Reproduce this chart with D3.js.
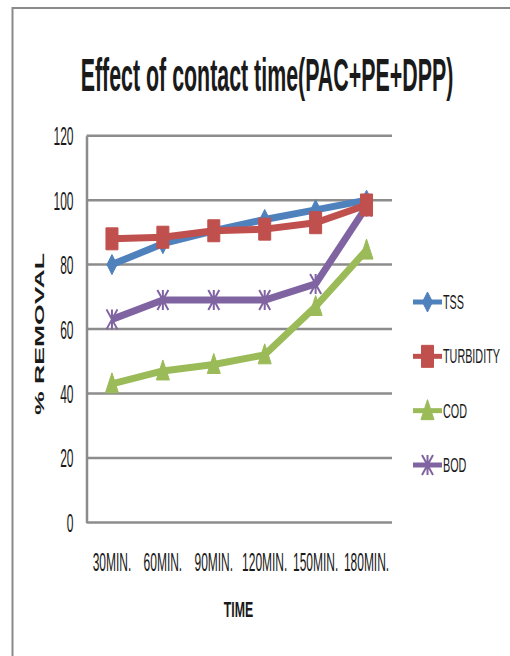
<!DOCTYPE html>
<html>
<head>
<meta charset="utf-8">
<script src="https://cdn.jsdelivr.net/npm/d3@7"></script>
<style>
  html, body { margin: 0; padding: 0; background: #fff; }
  svg { display: block; }
  text { font-family: "Liberation Sans", Arial, sans-serif; fill: #1a1a1a; }
</style>
</head>
<body>
<script>
const categories = ["30MIN.", "60MIN.", "90MIN.", "120MIN.", "150MIN.", "180MIN."];
const tss = [80, 86.5, 90.5, 94, 97, 100];
const turbidity = [88, 88.5, 90.5, 91, 93, 98.5];
const cod = [43, 47, 49, 52, 67, 84.5];
const bod = [63, 69, 69, 69, 74, 98];
const yTicks = [0, 20, 40, 60, 80, 100, 120];
const seriesNames = ["TSS", "TURBIDITY", "COD", "BOD"];
const seriesColors = ["#4F81BD", "#C0504D", "#9BBB59", "#8064A2"];
const seriesMarkers = ["diamond", "square", "triangle", "star"];
const titleText = "Effect of contact time(PAC+PE+DPP)";
const yTitle = "% REMOVAL";
const xTitle = "TIME";

const series = [tss, turbidity, cod, bod].map((vals, i) => ({
  name: seriesNames[i], color: seriesColors[i], marker: seriesMarkers[i], values: vals
}));

const W = 510, H = 656;
const svg = d3.select("body").append("svg").attr("width", W).attr("height", H);

// outer frame (left and top edges visible)
svg.append("path").attr("d", `M12.5,${H} L12.5,8 L${W},8`)
  .attr("fill", "none").attr("stroke", "#8a8a8a").attr("stroke-width", 2);

const plot = { left: 86.5, right: 392, top: 135.7, bottom: 522.4 };
const x = d3.scaleBand().domain(categories).range([plot.left, plot.right]);
const y = d3.scaleLinear().domain([0, 120]).range([plot.bottom, plot.top]);
const cx = c => x(c) + x.bandwidth() / 2;

// horizontally condense a text element around its anchor with a transform
function condense(sel, f) {
  sel.each(function () {
    const t = d3.select(this);
    const x0 = +t.attr("x") || 0;
    const prev = t.attr("transform") || "";
    t.attr("x", x0 / f).attr("transform", `${prev} scale(${f},1)`);
  });
}

// gridlines
svg.append("g").selectAll("line").data(yTicks).join("line")
  .attr("x1", plot.left).attr("x2", plot.right)
  .attr("y1", d => y(d)).attr("y2", d => y(d))
  .attr("stroke", "#8c8c8c").attr("stroke-width", 2.5);

// y axis (left line + labels)
const yAxis = svg.append("g").attr("transform", `translate(${plot.left},0)`)
  .call(d3.axisLeft(y).tickValues(yTicks).tickSize(0).tickPadding(13));
yAxis.select(".domain").attr("stroke", "#8c8c8c").attr("stroke-width", 2.5);
yAxis.selectAll("text").attr("font-size", 25).attr("dy", "0.36em")
  .attr("fill", "#1a1a1a").attr("font-family", '"Liberation Sans", Arial, sans-serif')
  .call(condense, 0.48);

// x axis labels
const xAxis = svg.append("g").attr("transform", `translate(0,${plot.bottom})`)
  .call(d3.axisBottom(x).tickSize(0).tickPadding(0));
xAxis.select(".domain").remove();
xAxis.selectAll("text").attr("font-size", 25).attr("dy", 0).attr("y", 48.5)
  .attr("fill", "#1a1a1a").attr("font-family", '"Liberation Sans", Arial, sans-serif')
  .call(condense, 0.48);

// title
svg.append("text").attr("x", 267).attr("y", 91).attr("text-anchor", "middle")
  .attr("font-size", 47).attr("font-weight", "bold").attr("fill", "#000")
  .text(titleText).call(condense, 0.455);

// axis titles
svg.append("text").attr("transform", "translate(43.5,334) rotate(-90)")
  .attr("text-anchor", "middle").attr("font-size", 13.5).attr("font-weight", "bold")
  .attr("fill", "#000").text(yTitle)
  .attr("textLength", 162).attr("lengthAdjust", "spacingAndGlyphs");

svg.append("text").attr("x", 238.5).attr("y", 617).attr("text-anchor", "middle")
  .attr("font-size", 22).attr("font-weight", "bold").attr("fill", "#000")
  .text(xTitle).call(condense, 0.56);

// marker path generator
function markerPath(type) {
  switch (type) {
    case "diamond": return "M0,-10 L5,0 L0,10 L-5,0 Z";
    case "square": return "M-6,-11 L6,-11 L6,11 L-6,11 Z";
    case "triangle": return "M0,-11 L6.5,9 L-6.5,9 Z";
    case "star": return "M-5.5,-10 L5.5,10 M5.5,-10 L-5.5,10 M0,-10 L0,10";
  }
}
function drawMarker(g, type, color) {
  if (type === "star") {
    g.append("path").attr("d", markerPath(type)).attr("fill", "none")
      .attr("stroke", color).attr("stroke-width", 2);
  } else {
    g.append("path").attr("d", markerPath(type)).attr("fill", color)
      .attr("stroke", color).attr("stroke-width", 1);
  }
}

const line = d3.line().x((d, i) => cx(categories[i])).y(d => y(d));

// draw series
const order = [0, 3, 2, 1];
order.forEach(si => {
  const s = series[si];
  const g = svg.append("g");
  g.append("path").datum(s.values).attr("d", line).attr("fill", "none")
    .attr("stroke", s.color).attr("stroke-width", 7).attr("stroke-linejoin", "round");
  s.values.forEach((v, i) => {
    const mg = g.append("g").attr("transform", `translate(${cx(categories[i])},${y(v)})`);
    drawMarker(mg, s.marker, s.color);
  });
});

// legend
const ly = d3.scalePoint().domain(seriesNames).range([302, 465]);
series.forEach(s => {
  const g = svg.append("g").attr("transform", `translate(0,${ly(s.name)})`);
  g.append("line").attr("x1", 413).attr("x2", 442).attr("y1", 0).attr("y2", 0)
    .attr("stroke", s.color).attr("stroke-width", 5);
  const mg = g.append("g").attr("transform", "translate(427.5,0)");
  drawMarker(mg, s.marker, s.color);
  g.append("text").attr("x", 443).attr("y", 7).attr("font-size", 20)
    .attr("fill", "#1a1a1a").text(s.name).call(condense, 0.54);
});
</script>
</body>
</html>
